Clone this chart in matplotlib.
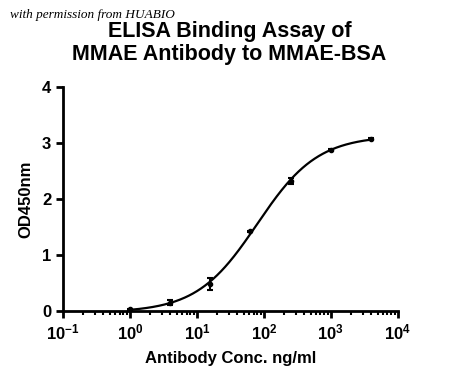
"""ELISA binding curve: MMAE antibody to MMAE-BSA."""

import matplotlib

matplotlib.use("Agg")
import matplotlib.pyplot as plt
import numpy as np
from matplotlib.ticker import LogLocator, NullFormatter

# concentrations (ng/ml) and duplicate OD450 readings
conc = [1.0, 3.9, 15.6, 62.5, 250.0, 1000.0, 4000.0]
rep1 = [0.02, 0.12, 0.40, 1.41, 2.28, 2.86, 3.06]
rep2 = [0.04, 0.18, 0.55, 1.43, 2.36, 2.88, 3.08]

title = "ELISA Binding Assay of\nMMAE Antibody to MMAE-BSA"
xlabel = "Antibody Conc. ng/ml"
ylabel = "OD450nm"
watermark = "with permission from HUABIO"

plt.rcParams["font.family"] = ["Liberation Sans", "DejaVu Sans"]
plt.rcParams["axes.unicode_minus"] = False

x = np.array(conc)
reps = np.vstack([rep1, rep2])
mean = reps.mean(axis=0)
sd = reps.std(axis=0, ddof=1)


def fit_4pl(x, y):
    # grid over log EC50 / hill, bottom & top by linear least squares
    best = None
    lx = np.log10(x)
    for lec in np.linspace(0.5, 3.5, 301):
        for h in np.linspace(0.5, 2.5, 201):
            f = 1.0 / (1.0 + 10 ** ((lec - lx) * h))
            A = np.column_stack([1 - f, f])
            coef, *_ = np.linalg.lstsq(A, y, rcond=None)
            err = np.sum((A @ coef - y) ** 2)
            if best is None or err < best[0]:
                best = (err, lec, h, coef)
    _, lec, h, (bot, top) = best
    return lambda xx: bot + (top - bot) / (1.0 + 10 ** ((lec - np.log10(xx)) * h))


model = fit_4pl(np.repeat(x, 2), reps.T.ravel())
xs = np.logspace(0, np.log10(4000), 300)

fig = plt.figure(figsize=(4.5, 3.83), dpi=100)
ax = fig.add_axes([0.14, 0.188, 0.744, 0.585])

ax.plot(xs, model(xs), color="black", lw=1.6)
ax.errorbar(x, mean, yerr=sd, fmt="o", color="black", ms=3,
            capsize=2.5, elinewidth=1.5, capthick=1.5)

ax.set_xscale("log")
ax.set_xlim(0.1, 1e4)
ax.set_ylim(0, 4)
ax.set_yticks([0, 1, 2, 3, 4])
ax.xaxis.set_major_locator(LogLocator(base=10, numticks=10))
ax.xaxis.set_minor_locator(LogLocator(base=10, subs=np.arange(2, 10), numticks=10))
ax.xaxis.set_minor_formatter(NullFormatter())

for s in ["top", "right"]:
    ax.spines[s].set_visible(False)
for s in ["left", "bottom"]:
    ax.spines[s].set_linewidth(2)
ax.tick_params(which="major", length=5, width=2, labelsize=12)
ax.tick_params(which="minor", length=3, width=1.5)
for lab in ax.get_xticklabels() + ax.get_yticklabels():
    lab.set_fontweight("bold")

ax.set_xlabel(xlabel, fontsize=12, fontweight="bold", labelpad=6)
ax.set_ylabel(ylabel, fontsize=12, fontweight="bold", labelpad=6)

fig.text(0.51, 0.945, title, ha="center", va="top", fontsize=15.5,
         fontweight="bold", linespacing=1.1)
fig.text(0.022, 0.962, watermark, ha="left", va="center", fontsize=9.5,
         family="Liberation Serif", style="italic")

fig.savefig("out.png", dpi=100)
